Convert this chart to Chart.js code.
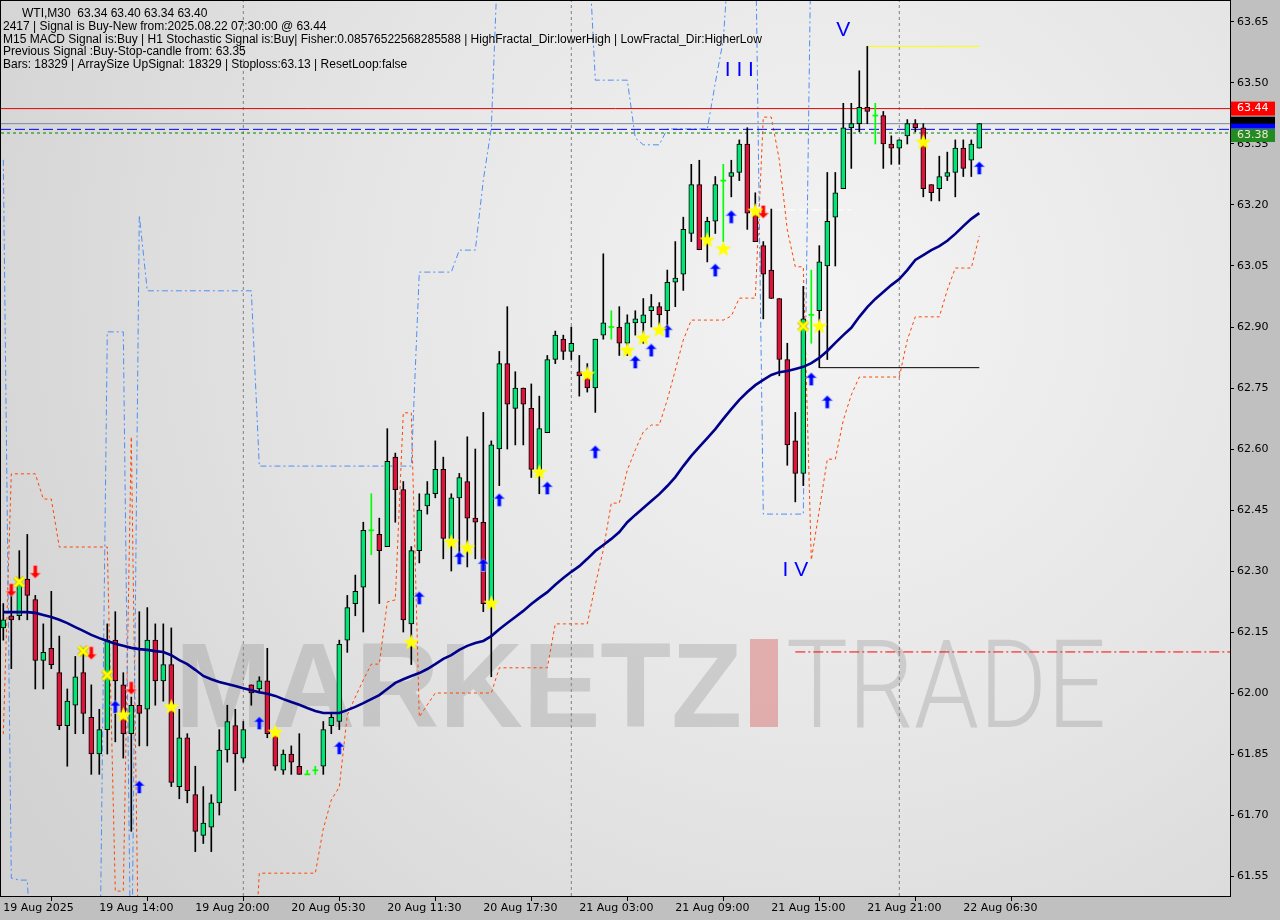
<!DOCTYPE html>
<html><head><meta charset="utf-8">
<script src="https://cdn.jsdelivr.net/npm/chart.js@4/dist/chart.umd.min.js"></script>
<style>html,body{margin:0;padding:0;background:#c0c0c0;overflow:hidden}canvas{display:block}</style>
</head><body>
<canvas id="c" width="1280" height="920" style="width:1280px;height:920px"></canvas>
<script>
// ---------- DATA ----------
const xTickBars = [0,12,24,36,48,60,72,84,96,108,120];
const xTickLabels = ["19 Aug 2025","19 Aug 14:00","19 Aug 20:00","20 Aug 05:30","20 Aug 11:30","20 Aug 17:30","21 Aug 03:00","21 Aug 09:00","21 Aug 15:00","21 Aug 21:00","22 Aug 06:30"];
const yTicks = [61.55,61.70,61.85,62.00,62.15,62.30,62.45,62.60,62.75,62.90,63.05,63.20,63.35,63.50,63.65];

const openP = [62.16,62.19,62.19,62.28,62.23,62.08,62.11,62.05,61.92,61.97,
62.05,61.94,61.85,61.91,62.13,62.02,61.90,61.97,61.96,62.13,
62.03,62.07,61.77,61.89,61.75,61.65,61.67,61.73,61.86,61.92,
61.84,62.02,62.01,62.03,61.90,61.81,61.85,61.82,61.80,61.81,
61.82,61.92,61.93,62.13,62.22,62.26,62.40,62.39,62.36,62.58,
62.50,62.17,62.35,62.46,62.49,62.55,62.38,62.48,62.52,62.43,
62.42,62.22,62.60,62.81,62.70,62.75,62.70,62.55,62.64,62.82,
62.87,62.84,62.79,62.78,62.75,62.88,62.90,62.90,62.86,62.91,
62.91,62.94,62.95,62.94,63.01,63.03,63.13,63.25,63.12,63.16,
63.26,63.27,63.28,63.35,63.18,63.10,63.04,62.97,62.82,62.62,
62.54,62.93,62.94,63.05,63.17,63.24,63.39,63.40,63.44,63.42,
63.42,63.35,63.34,63.37,63.40,63.39,63.25,63.24,63.27,63.28,
63.34,63.31,63.34];
const highP = [62.22,62.25,62.35,62.39,62.24,62.17,62.25,62.14,62.01,62.09,
62.11,62.02,61.96,62.17,62.20,62.05,61.99,62.20,62.21,62.17,
62.17,62.16,61.96,61.90,61.82,61.77,61.75,61.91,61.97,61.96,
61.93,62.02,62.04,62.11,61.90,61.86,61.87,61.90,61.81,61.82,
61.93,61.95,62.13,62.24,62.29,62.42,62.49,62.43,62.65,62.59,
62.52,62.36,62.49,62.52,62.62,62.58,62.49,62.54,62.63,62.60,
62.69,62.62,62.84,62.95,62.79,62.75,62.76,62.73,62.83,62.89,
62.88,62.90,62.83,62.81,62.87,63.08,62.94,62.95,62.93,62.94,
62.97,62.98,62.96,63.04,63.11,63.17,63.30,63.31,63.17,63.27,
63.30,63.31,63.36,63.39,63.23,63.11,63.19,62.97,62.86,62.69,
63.00,63.04,63.10,63.28,63.28,63.45,63.45,63.53,63.59,63.45,
63.43,63.37,63.36,63.41,63.41,63.40,63.25,63.32,63.33,63.36,
63.36,63.36,63.40];
const lowP = [62.13,62.06,62.18,62.18,62.01,62.01,62.06,61.91,61.82,61.90,
61.90,61.80,61.80,61.85,61.88,61.84,61.66,61.87,61.87,61.97,
61.98,61.77,61.74,61.73,61.61,61.63,61.61,61.70,61.83,61.76,
61.83,61.97,62.00,61.89,61.81,61.80,61.80,61.80,61.80,61.80,
61.80,61.90,61.91,62.10,62.19,62.15,62.34,62.22,62.36,62.42,
62.15,62.07,62.32,62.44,62.48,62.33,62.30,62.33,62.31,62.33,
62.20,62.04,62.51,62.60,62.61,62.61,62.53,62.49,62.64,62.81,
62.82,62.82,62.73,62.74,62.69,62.87,62.87,62.83,62.83,62.88,
62.86,62.90,62.90,62.89,62.95,62.99,63.11,63.09,63.06,63.13,
63.11,63.22,63.26,63.14,63.11,62.92,62.97,62.78,62.56,62.47,
62.51,62.86,62.80,62.82,63.05,63.24,63.29,63.38,63.40,63.35,
63.29,63.30,63.30,63.35,63.38,63.22,63.21,63.21,63.26,63.22,
63.27,63.27,63.34];
const closeP = [62.18,62.18,62.27,62.24,62.08,62.10,62.07,61.92,61.98,62.04,
61.95,61.85,61.91,62.13,62.03,61.90,61.97,61.95,62.13,62.03,
62.07,61.78,61.89,61.76,61.66,61.68,61.73,61.86,61.93,61.85,
61.91,62.00,62.03,61.90,61.82,61.85,61.83,61.80,61.80,61.81,
61.91,61.94,62.12,62.21,62.25,62.40,62.40,62.35,62.57,62.50,
62.18,62.35,62.45,62.49,62.55,62.38,62.48,62.53,62.43,62.42,
62.22,62.61,62.81,62.71,62.75,62.71,62.55,62.65,62.82,62.88,
62.84,62.86,62.78,62.75,62.87,62.91,62.90,62.86,62.91,62.92,
62.93,62.95,62.93,63.01,63.02,63.14,63.25,63.09,63.16,63.25,
63.26,63.28,63.35,63.18,63.11,63.03,62.97,62.82,62.61,62.54,
62.92,62.93,63.06,63.16,63.23,63.39,63.40,63.44,63.43,63.42,
63.35,63.34,63.36,63.40,63.39,63.24,63.23,63.27,63.28,63.34,
63.29,63.35,63.40];

const maLine = [62.199,62.199,62.199,62.199,62.197,62.192,62.187,62.180,62.172,62.162,
62.153,62.143,62.135,62.128,62.121,62.116,62.111,62.108,62.106,62.103,
62.101,62.093,62.081,62.071,62.057,62.042,62.034,62.027,62.022,62.017,
62.012,62.007,62.002,61.998,61.993,61.985,61.978,61.971,61.963,61.956,
61.951,61.951,61.951,61.958,61.966,61.975,61.985,61.995,62.010,62.025,
62.034,62.042,62.049,62.059,62.071,62.084,62.093,62.106,62.116,62.123,
62.128,62.140,62.157,62.172,62.187,62.202,62.219,62.234,62.248,62.266,
62.283,62.298,62.312,62.330,62.349,62.364,62.379,62.396,62.420,62.438,
62.455,62.472,62.489,62.509,62.531,62.558,62.583,62.605,62.627,62.649,
62.674,62.698,62.721,62.740,62.757,62.770,62.782,62.789,62.792,62.797,
62.802,62.811,62.824,62.841,62.861,62.880,62.898,62.925,62.949,62.969,
62.986,63.003,63.018,63.040,63.065,63.077,63.089,63.099,63.112,63.129,
63.148,63.166,63.180];

const upperBand = [63.311,61.545,61.540,61.540,61.2,61.2,61.2,61.2,61.2,61.2,
61.2,61.2,61.2,62.888,62.888,62.888,61.2,63.175,62.989,62.989,
62.989,62.989,62.989,62.989,62.989,62.989,62.989,62.989,62.989,62.989,
62.989,62.989,62.558,62.558,62.558,62.558,62.558,62.558,62.558,62.558,
62.558,62.558,62.558,62.558,62.558,62.558,62.558,62.558,62.558,62.558,
62.558,62.558,63.035,63.035,63.035,63.035,63.035,63.089,63.089,63.089,
63.261,63.389,63.9,63.9,63.9,63.9,63.9,63.9,63.9,63.9,
63.9,63.9,63.9,63.9,63.507,63.507,63.507,63.507,63.507,63.365,
63.348,63.348,63.348,63.387,63.387,63.387,63.387,63.387,63.387,63.500,
63.606,63.9,63.9,63.9,63.9,62.440,62.440,62.440,62.440,62.440,
62.440,63.9,63.9,63.9,63.9,63.9,63.9,63.9,63.9,63.9,
63.9,63.9,63.9,63.9,63.9,63.9,63.9,63.9,63.9,63.9,
63.9,63.9,63.9];

const lowerBand = [61.899,62.539,62.539,62.539,62.539,62.477,62.477,62.359,62.359,62.359,
62.359,62.359,62.359,62.359,61.513,61.513,62.630,61.2,61.2,61.2,
61.2,61.2,61.2,61.2,61.2,61.2,61.2,61.2,61.2,61.2,
61.2,61.2,61.557,61.557,61.557,61.557,61.557,61.557,61.557,61.557,
61.666,61.737,61.769,61.946,61.990,62.032,62.071,62.071,62.224,62.229,
62.689,62.689,61.941,61.971,62.000,62.000,62.000,62.000,62.000,62.000,
62.000,62.000,62.062,62.062,62.062,62.062,62.062,62.062,62.062,62.170,
62.170,62.170,62.170,62.170,62.266,62.352,62.467,62.467,62.548,62.598,
62.642,62.659,62.659,62.721,62.794,62.868,62.917,62.917,62.917,62.917,
62.917,62.927,62.971,62.971,62.971,63.416,63.416,63.311,63.139,63.048,
63.048,62.327,62.450,62.575,62.575,62.671,62.733,62.777,62.777,62.777,
62.777,62.777,62.777,62.868,62.925,62.925,62.925,62.925,62.991,63.045,
63.045,63.045,63.124];

const starBars   = [15,21,34,51,56,58,61,67,73,78,80,82,88,90,94,102,115];
const starPrices = [61.946,61.966,61.904,62.125,62.371,62.357,62.221,62.543,62.784,62.843,62.873,62.893,63.114,63.092,63.185,62.902,63.355];
const crossBars   = [2,10,13,100];
const crossPrices = [62.273,62.103,62.044,62.902];
const upBars   = [14,17,32,42,52,57,60,62,68,74,79,81,83,89,91,101,103,122];
const upPrices = [61.966,61.769,61.926,61.865,62.234,62.332,62.315,62.475,62.504,62.593,62.814,62.843,62.890,63.040,63.171,62.772,62.716,63.291];
const downBars   = [1,4,11,16,95];
const downPrices = [62.253,62.298,62.098,62.012,63.183];

const sepBars = [30,71,112];
const romanText = ["I I I","I V","V"];
const romanBars = [92,99,105];
const romanPrices = [63.532,62.302,63.630];

const headerLines = [
  "WTI,M30  63.34 63.40 63.34 63.40",
  "2417 | Signal is Buy-New from:2025.08.22 07:30:00 @ 63.44",
  "M15 MACD Signal is:Buy | H1 Stochastic Signal is:Buy| Fisher:0.08576522568285588 | HighFractal_Dir:lowerHigh | LowFractal_Dir:HigherLow",
  "Previous Signal :Buy-Stop-candle from: 63.35",
  "Bars: 18329 | ArraySize UpSignal: 18329 | Stoploss:63.13 | ResetLoop:false"
];

const Y_MIN = 61.5009, Y_MAX = 63.7016, X_MIN = -0.2875, X_MAX = 153.3375;
const LAST = openP.length - 1;

// ---------- helpers ----------
const GREEN = '#00e676', RED = '#dc143c', LIME = '#00ff00';
const isDoji = i => openP[i] === closeP[i];
const candleColor = i => isDoji(i) ? LIME : (closeP[i] > openP[i] ? GREEN : RED);
const idx = openP.map((_, i) => i);

function makeStar(){
  const c=document.createElement('canvas'); c.width=c.height=17; const g=c.getContext('2d');
  g.fillStyle='#ffff00'; g.beginPath();
  for(let k=0;k<10;k++){const r=k%2?3.5:8.3; const a=-Math.PI/2+k*Math.PI/5; g.lineTo(8.5+r*Math.cos(a),8.8+r*Math.sin(a));}
  g.closePath(); g.fill(); return c;
}
function makeArrow(color, up){
  const c=document.createElement('canvas'); c.width=12; c.height=14; const g=c.getContext('2d');
  g.fillStyle=color; g.strokeStyle=up?'rgba(170,200,255,0.7)':'rgba(255,180,180,0.7)'; g.lineWidth=1;
  let pts=[[6,0.5],[11.5,6],[8,6],[8,13.5],[4,13.5],[4,6],[0.5,6]];
  if(!up) pts=pts.map(p=>[p[0],14-p[1]]);
  g.beginPath(); pts.forEach((p,k)=>k?g.lineTo(p[0],p[1]):g.moveTo(p[0],p[1])); g.closePath(); g.fill(); g.stroke();
  return c;
}
function makeCross(){
  const c=document.createElement('canvas'); c.width=c.height=12; const g=c.getContext('2d');
  g.strokeStyle='#c8b400'; g.lineWidth=4; g.beginPath(); g.moveTo(1.5,1.5); g.lineTo(10.5,10.5); g.moveTo(10.5,1.5); g.lineTo(1.5,10.5); g.stroke();
  g.strokeStyle='#ffff00'; g.lineWidth=2.5; g.beginPath(); g.moveTo(1.5,1.5); g.lineTo(10.5,10.5); g.moveTo(10.5,1.5); g.lineTo(1.5,10.5); g.stroke();
  return c;
}
const starImg=makeStar(), upImg=makeArrow('#0000ff',true), downImg=makeArrow('#ff0000',false), crossImg=makeCross();

function hline(y, x0, x1, color, dash, order){
  return {type:'line', data:[{x:x0,y:y},{x:x1,y:y}], borderColor:color, borderWidth:1, borderDash:dash||[], pointRadius:0, order:order||6};
}
function markers(bars, prices, img){
  return {type:'scatter', data:bars.map((b,k)=>({x:b,y:prices[k]})), pointStyle:img, pointRadius:5, pointHoverRadius:5, order:0};
}

const datasets = [
  ...sepBars.map(b=>({type:'line', data:[{x:b,y:Y_MIN},{x:b,y:Y_MAX}], borderColor:'#808080', borderWidth:1, borderDash:[3,3], pointRadius:0, order:9})),
  {type:'line', data:idx.map(i=>({x:i,y:upperBand[i]})), borderColor:'#4f8ef5', borderWidth:1, borderDash:[6,3,2,3], pointRadius:0, tension:0, order:8},
  {type:'line', data:idx.map(i=>({x:i,y:lowerBand[i]})), borderColor:'#ff4500', borderWidth:1, borderDash:[3,3], pointRadius:0, tension:0, order:8},
  hline(63.437, X_MIN, X_MAX, '#e00000'),
  hline(63.40, X_MIN, X_MAX, '#7a8aa0'),
  hline(63.386, X_MIN, X_MAX, '#0000ff', [10,4]),
  hline(63.377, X_MIN, X_MAX, '#008000', [3,3]),
  hline(63.59, 108, LAST, '#ffff00'),
  hline(62.80, 102, LAST, '#000000'),
  hline(63.188, 95, 106, '#ffffff', [8,4]),
  hline(62.101, 99, X_MAX, '#ff0000', [10,3,2,3]),
  {type:'bar', data:idx.map(i=>({x:i,y:[lowP[i],highP[i]]})), backgroundColor:idx.map(i=>isDoji(i)?LIME:'#000000'), barThickness:1, grouped:false, borderWidth:0, order:4},
  {type:'bar', data:idx.map(i=>isDoji(i)?({x:i,y:[openP[i]-0.0013,openP[i]+0.0013]}):({x:i,y:[openP[i],closeP[i]]})),
   backgroundColor:idx.map(i=>candleColor(i)), borderColor:idx.map(i=>isDoji(i)?LIME:'#000000'),
   borderWidth:idx.map(i=>isDoji(i)?0:1), borderSkipped:false, barThickness:5, grouped:false, order:3},
  {type:'line', data:idx.map(i=>({x:i,y:maLine[i]})), borderColor:'#00008b', borderWidth:2.6, pointRadius:0, tension:0, order:2},
  markers(starBars, starPrices, starImg),
  markers(crossBars, crossPrices, crossImg),
  markers(upBars, upPrices, upImg),
  markers(downBars, downPrices, downImg)
];

const decor = {
  id:'decor',
  beforeDraw(chart){
    const ctx=chart.ctx, a=chart.chartArea;
    ctx.save();
    ctx.fillStyle='#c0c0c0'; ctx.fillRect(0,0,chart.width,chart.height);
    const g=ctx.createRadialGradient(830,300,20,830,300,950);
    g.addColorStop(0,'#f3f3f3'); g.addColorStop(0.5,'#e5e5e5'); g.addColorStop(1,'#d2d2d2');
    ctx.fillStyle=g; ctx.fillRect(a.left,a.top,a.right-a.left,a.bottom-a.top);
    ctx.restore();
  },
  beforeDatasetsDraw(chart){
    const ctx=chart.ctx, a=chart.chartArea;
    ctx.save();
    ctx.beginPath(); ctx.rect(a.left,a.top,a.right-a.left,a.bottom-a.top); ctx.clip();
    ctx.fillStyle='rgba(120,120,120,0.25)';
    ctx.font='bold 120px "Liberation Sans", Arial, sans-serif';
    ctx.textBaseline='alphabetic';
    let w=ctx.measureText('MARKETZ').width;
    ctx.save(); ctx.translate(175,727); ctx.scale(567/w,1); ctx.fillText('MARKETZ',0,0); ctx.restore();
    ctx.fillStyle='rgba(215,90,90,0.42)'; ctx.fillRect(750,639,28,88);
    ctx.fillStyle='rgba(120,120,120,0.25)';
    ctx.font='300 122px Roboto, "Liberation Sans", sans-serif';
    w=ctx.measureText('TRADE').width;
    ctx.save(); ctx.translate(786,727); ctx.scale(320/w,1); ctx.fillText('TRADE',0,0); ctx.restore();
    ctx.restore();
  },
  afterDatasetsDraw(chart){
    const ctx=chart.ctx, xs=chart.scales.x, ys=chart.scales.y;
    ctx.save();
    ctx.fillStyle='#0000ff'; ctx.font='21px "Liberation Sans", Arial, sans-serif';
    ctx.textAlign='center'; ctx.textBaseline='middle';
    romanText.forEach((t,k)=>ctx.fillText(t, xs.getPixelForValue(romanBars[k]), ys.getPixelForValue(romanPrices[k])));
    ctx.restore();
  },
  afterDraw(chart){
    const ctx=chart.ctx, a=chart.chartArea, ys=chart.scales.y;
    ctx.save();
    ctx.strokeStyle='#000'; ctx.lineWidth=1;
    ctx.strokeRect(a.left-0.5,a.top-0.5,a.right-a.left+1,a.bottom-a.top+1);
    ctx.fillStyle='#000'; ctx.font='12px "Liberation Sans", Arial, sans-serif'; ctx.textBaseline='alphabetic'; ctx.textAlign='left';
    const base=[17,30,42.5,55,67.5];
    headerLines.forEach((t,k)=>ctx.fillText(t, k===0?22:3, base[k]));
    const bx=a.right+1, bw=44;
    ctx.font='11px "DejaVu Sans", sans-serif'; ctx.textBaseline='middle';
    const yb=ys.getPixelForValue(63.40), yr=ys.getPixelForValue(63.437), yg=ys.getPixelForValue(63.377);
    ctx.fillStyle='#000000'; ctx.fillRect(bx, yb-7, bw, 8);
    ctx.fillStyle='#0000ff'; ctx.fillRect(bx, yb, bw, 5);
    ctx.fillStyle='#228b22'; ctx.fillRect(bx, yg-4, bw, 13);
    ctx.fillStyle='#f0e8d0'; ctx.fillText('63.38', bx+6, yg+2.5);
    ctx.fillStyle='#ff0000'; ctx.fillRect(bx, yr-7, bw, 14);
    ctx.fillStyle='#ffffff'; ctx.fillText('63.44', bx+6, yr);
    ctx.restore();
  }
};

function noPad(s){ s.paddingTop=0; s.paddingBottom=0; s.paddingLeft=0; s.paddingRight=0; }

new Chart(document.getElementById('c'), {
  type:'line',
  data:{datasets},
  options:{
    responsive:false, animation:false, devicePixelRatio:1,
    layout:{autoPadding:false, padding:{left:1,top:1,right:0,bottom:0}},
    plugins:{legend:{display:false}, tooltip:{enabled:false}},
    events:[],
    scales:{
      x:{type:'linear', position:'bottom', min:X_MIN, max:X_MAX, offset:false,
         border:{display:false},
         grid:{display:true, drawOnChartArea:false, drawTicks:true, tickLength:5, color:'#000'},
         ticks:{autoSkip:false, maxRotation:0, minRotation:0, align:'start', padding:1, color:'#000',
                font:{family:'"DejaVu Sans", sans-serif', size:11},
                callback:(v)=>{const k=xTickBars.indexOf(v); return k>=0?xTickLabels[k]:'';}},
         afterBuildTicks:(s)=>{s.ticks=xTickBars.map(v=>({value:v}));},
         afterFit:(s)=>{s.height=24; noPad(s);}},
      y:{type:'linear', position:'right', min:Y_MIN, max:Y_MAX,
         border:{display:false},
         grid:{display:true, drawOnChartArea:false, drawTicks:true, tickLength:4, color:'#000'},
         ticks:{padding:3, color:'#000', font:{family:'"DejaVu Sans", sans-serif', size:11},
                callback:(v)=>Number(v).toFixed(2)},
         afterBuildTicks:(s)=>{s.ticks=yTicks.map(v=>({value:v}));},
         afterFit:(s)=>{s.width=50; noPad(s);}}
    }
  },
  plugins:[decor]
});
</script>
</body></html>
